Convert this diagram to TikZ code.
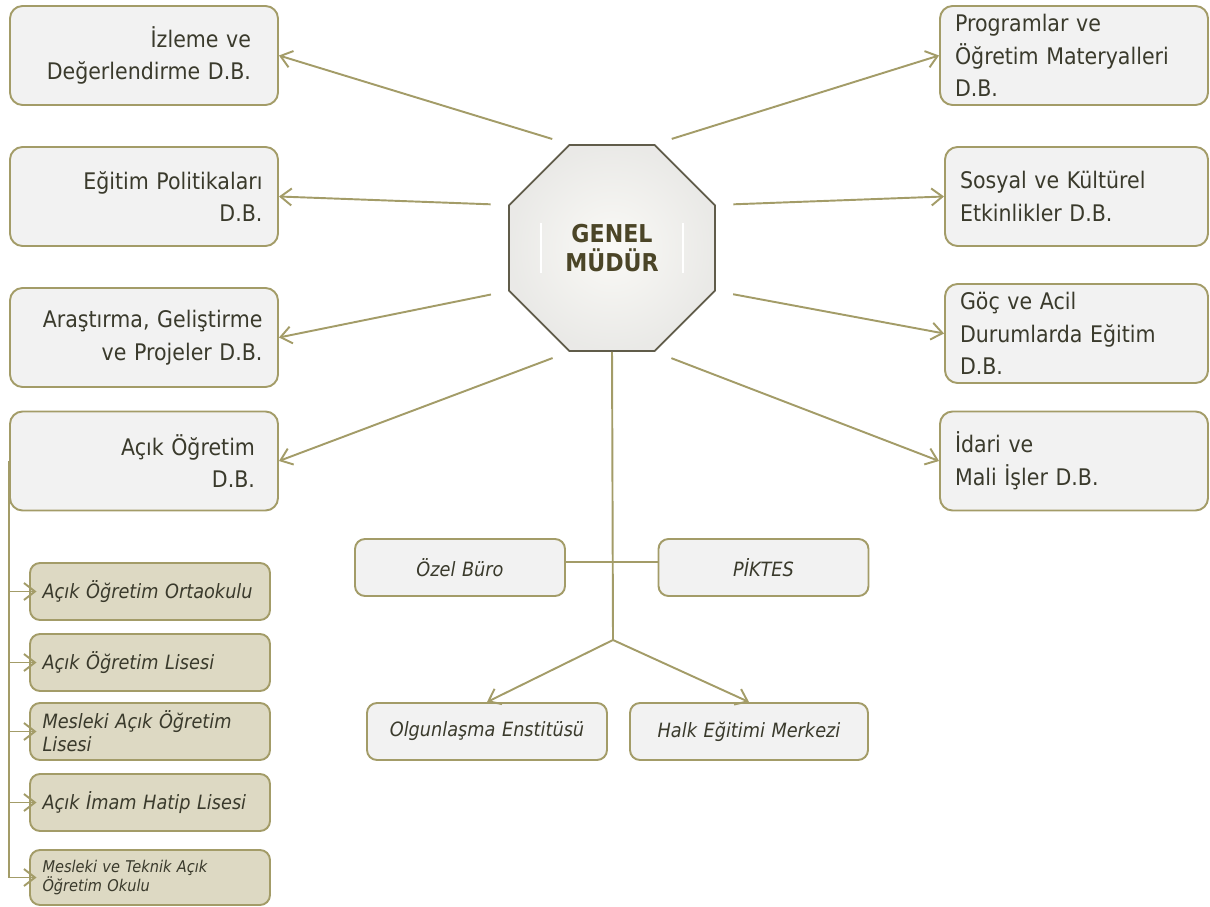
\documentclass[tikz,border=0pt]{standalone}
\usepackage{fontspec}
\setmainfont[FakeStretch=0.9]{DejaVu Sans}
\usetikzlibrary{shapes.geometric, arrows.meta}
\definecolor{zeytin}{HTML}{A39C68}
\definecolor{acikgri}{HTML}{F2F2F2}
\definecolor{ten}{HTML}{DDD9C3}
\definecolor{yazi}{HTML}{3A3A2C}
\definecolor{koyu}{HTML}{4B4527}
\tikzset{
	kutu/.style={draw=zeytin, line width=1.1pt, rounded corners=0.25cm, fill=acikgri, minimum height=1.98cm, text=yazi, font=\fontsize{13}{18.5}\selectfont},
	solkutu/.style={kutu, minimum width=5.36cm, text width=4.74cm, align=right},
	sagkutu/.style={kutu, minimum width=5.26cm, text width=4.66cm, align=left},
	altkutu/.style={draw=zeytin, line width=1.1pt, rounded corners=0.2cm, fill=ten, minimum width=4.8cm, minimum height=1.14cm, text width=4.3cm, align=left, text=yazi, font=\itshape\fontsize{11.2}{13.2}\selectfont},
	ortakutu/.style={altkutu, fill=acikgri, minimum width=4.2cm, text width=3.6cm, align=center},
	ok/.style={draw=zeytin, line width=1.1pt, -{Straight Barb[length=0.22cm, width=0.34cm]}},
	cizgi/.style={draw=zeytin, line width=1.1pt},
}
\begin{document}
\begin{tikzpicture}
	\useasboundingbox (0,0) rectangle (24.2,-18.14);

	% genel mudur
	\node[regular polygon, regular polygon sides=8, minimum size=4.46cm, draw=koyu!60!gray, line width=1pt, inner color=ten!15!white, outer color=ten!45!gray!25!white, align=center, text=koyu, font=\bfseries\fontsize{14}{16}\selectfont] (gm) at (12.24,-4.96) {GENEL\\MÜDÜR};
	\draw[white, line width=1.5pt] ([shift={(-1.42,0.5)}]gm.center) -- ++(0,-1);
	\draw[white, line width=1.5pt] ([shift={(1.42,0.5)}]gm.center) -- ++(0,-1);

	% sol kutular
	\node[solkutu, text width=4.28cm] (izleme) at (2.88,-1.11) {İzleme ve\\Değerlendirme D.B.};
	\node[solkutu] (politika) at (2.88,-3.93) {Eğitim Politikaları\\D.B.};
	\node[solkutu] (arastirma) at (2.88,-6.75) {Araştırma, Geliştirme\\ve Projeler D.B.};
	\node[solkutu, text width=4.44cm] (acik) at (2.88,-9.22) {Açık Öğretim\\D.B.};

	% sag kutular
	\node[sagkutu, minimum width=5.36cm, text width=4.76cm] (program) at (21.48,-1.11) {Programlar ve\\Öğretim Materyalleri\\D.B.};
	\node[sagkutu] (sosyal) at (21.53,-3.93) {Sosyal ve Kültürel\\Etkinlikler D.B.};
	\node[sagkutu] (goc) at (21.53,-6.67) {Göç ve Acil\\Durumlarda Eğitim\\D.B.};
	\node[sagkutu, minimum width=5.36cm, text width=4.76cm] (idari) at (21.48,-9.22) {İdari ve\\Mali İşler D.B.};

	% acik ogretim okullari
	\node[altkutu] (ortaokul) at (3,-11.83) {Açık Öğretim Ortaokulu};
	\node[altkutu] (lise) at (3,-13.25) {Açık Öğretim Lisesi};
	\node[altkutu] (mlise) at (3,-14.63) {Mesleki Açık Öğretim\\Lisesi};
	\node[altkutu] (imam) at (3,-16.05) {Açık İmam Hatip Lisesi};
	\node[altkutu, minimum height=1.1cm, font=\itshape\fontsize{9.2}{11}\selectfont] (mtok) at (3,-17.55) {Mesleki ve Teknik Açık\\Öğretim Okulu};

	% orta
	\node[ortakutu] (ozel) at (9.2,-11.35) {Özel Büro};
	\node[ortakutu] (piktes) at (15.27,-11.35) {PİKTES};
	\node[ortakutu, minimum width=4.8cm, text width=4.2cm] (olgun) at (9.74,-14.63) {Olgunlaşma Enstitüsü};
	\node[ortakutu, minimum width=4.76cm, text width=4.2cm] (halk) at (14.98,-14.63) {Halk Eğitimi Merkezi};
	\coordinate (bol) at (12.26,-12.8);

	% oklar
	\draw[ok, shorten <=0.35cm] (gm.corner 2) -- (izleme.east);
	\draw[ok, shorten <=0.35cm] (gm.corner 3) -- (politika.east);
	\draw[ok, shorten <=0.35cm] (gm.corner 4) -- (arastirma.east);
	\draw[ok, shorten <=0.35cm] (gm.corner 5) -- (acik.east);
	\draw[ok, shorten <=0.35cm] (gm.corner 1) -- (program.west);
	\draw[ok, shorten <=0.35cm] (gm.corner 8) -- (sosyal.west);
	\draw[ok, shorten <=0.35cm] (gm.corner 7) -- (goc.west);
	\draw[ok, shorten <=0.35cm] (gm.corner 6) -- (idari.west);

	\draw[cizgi] (gm.south) -- (bol);
	\draw[cizgi] ([yshift=0.11cm]ozel.east) -- ([yshift=0.11cm]piktes.west);
	\draw[ok] (bol) -- (olgun.north);
	\draw[ok] (bol) -- (halk.north);

	\draw[cizgi] (acik.west) -- (acik.west |- mtok.west);
	\draw[ok, shorten >=-0.15cm] (acik.west |- ortaokul.west) -- (ortaokul.west);
	\draw[ok, shorten >=-0.15cm] (acik.west |- lise.west) -- (lise.west);
	\draw[ok, shorten >=-0.15cm] (acik.west |- mlise.west) -- (mlise.west);
	\draw[ok, shorten >=-0.15cm] (acik.west |- imam.west) -- (imam.west);
	\draw[ok, shorten >=-0.15cm] (acik.west |- mtok.west) -- (mtok.west);

\end{tikzpicture}
\end{document}
